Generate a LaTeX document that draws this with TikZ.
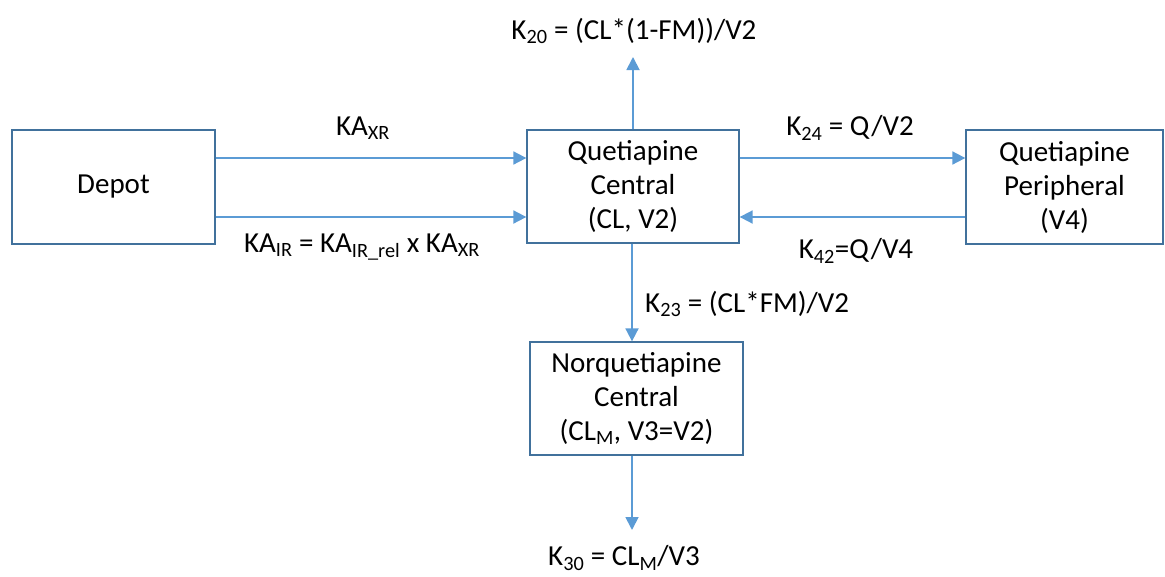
\documentclass[tikz,border=0pt]{standalone}
\usepackage{fontspec}
\setmainfont{Carlito}
\usetikzlibrary{arrows.meta}
\definecolor{boxline}{HTML}{41719C}
\definecolor{arrowc}{HTML}{5B9BD5}
\begin{document}
\begin{tikzpicture}[x=1pt,y=-1pt,
  box/.style={draw=boxline,line width=1.3pt,fill=white,align=center,inner sep=0pt,
    font=\fontsize{29}{34}\selectfont},
  lbl/.style={inner sep=0pt,font=\fontsize{29}{34}\selectfont},
  arr/.style={draw=arrowc,line width=1.8pt,-{Triangle[length=13pt,width=13pt]}}]
\useasboundingbox (0,0) rectangle (1165,576);
\node[box,minimum width=203pt,minimum height=114pt] (depot) at (113.5,187) {Depot};
\node[box,minimum width=212pt,minimum height=113pt] (central) at (633,186.5) {Quetiapine\\Central\\(CL, V2)};
\node[box,minimum width=197pt,minimum height=114pt] (periph) at (1064.5,187) {Quetiapine\\Peripheral\\(V4)};
\node[box,minimum width=213pt,minimum height=113pt] (norq) at (636.5,398.5) {Norquetiapine\\Central\\(CL\textsubscript{M}, V3=V2)};
\coordinate (top) at (633,57);
\coordinate (bot) at (632,530);
\draw[arr] (depot.east |- 0,158) -- (central.west |- 0,158);
\draw[arr] (depot.east |- 0,217) -- (central.west |- 0,217);
\draw[arr] (central.east |- 0,158) -- (periph.west |- 0,158);
\draw[arr] (periph.west |- 0,217) -- (central.east |- 0,217);
\draw[arr] (central.north -| top) -- (top);
\draw[arr] (central.south -| bot) -- (norq.north -| bot);
\draw[arr] (norq.south -| bot) -- (bot);
\node[lbl] (k20) at (634,31) {K\textsubscript{20} = (CL*(1-FM))/V2};
\node[lbl] (kaxr) at (363,128) {KA\textsubscript{XR}};
\node[lbl] (kair) at (362,247) {KA\textsubscript{IR} = KA\textsubscript{IR\_rel} x KA\textsubscript{XR}};
\node[lbl] (k24) at (850,128) {K\textsubscript{24} = Q/V2};
\node[lbl] (k42) at (856,251) {K\textsubscript{42}=Q/V4};
\node[lbl,anchor=west] (k23) at (645,304) {K\textsubscript{23} = (CL*FM)/V2};
\node[lbl] (k30) at (624,558) {K\textsubscript{30} = CL\textsubscript{M}/V3};
\end{tikzpicture}
\end{document}
